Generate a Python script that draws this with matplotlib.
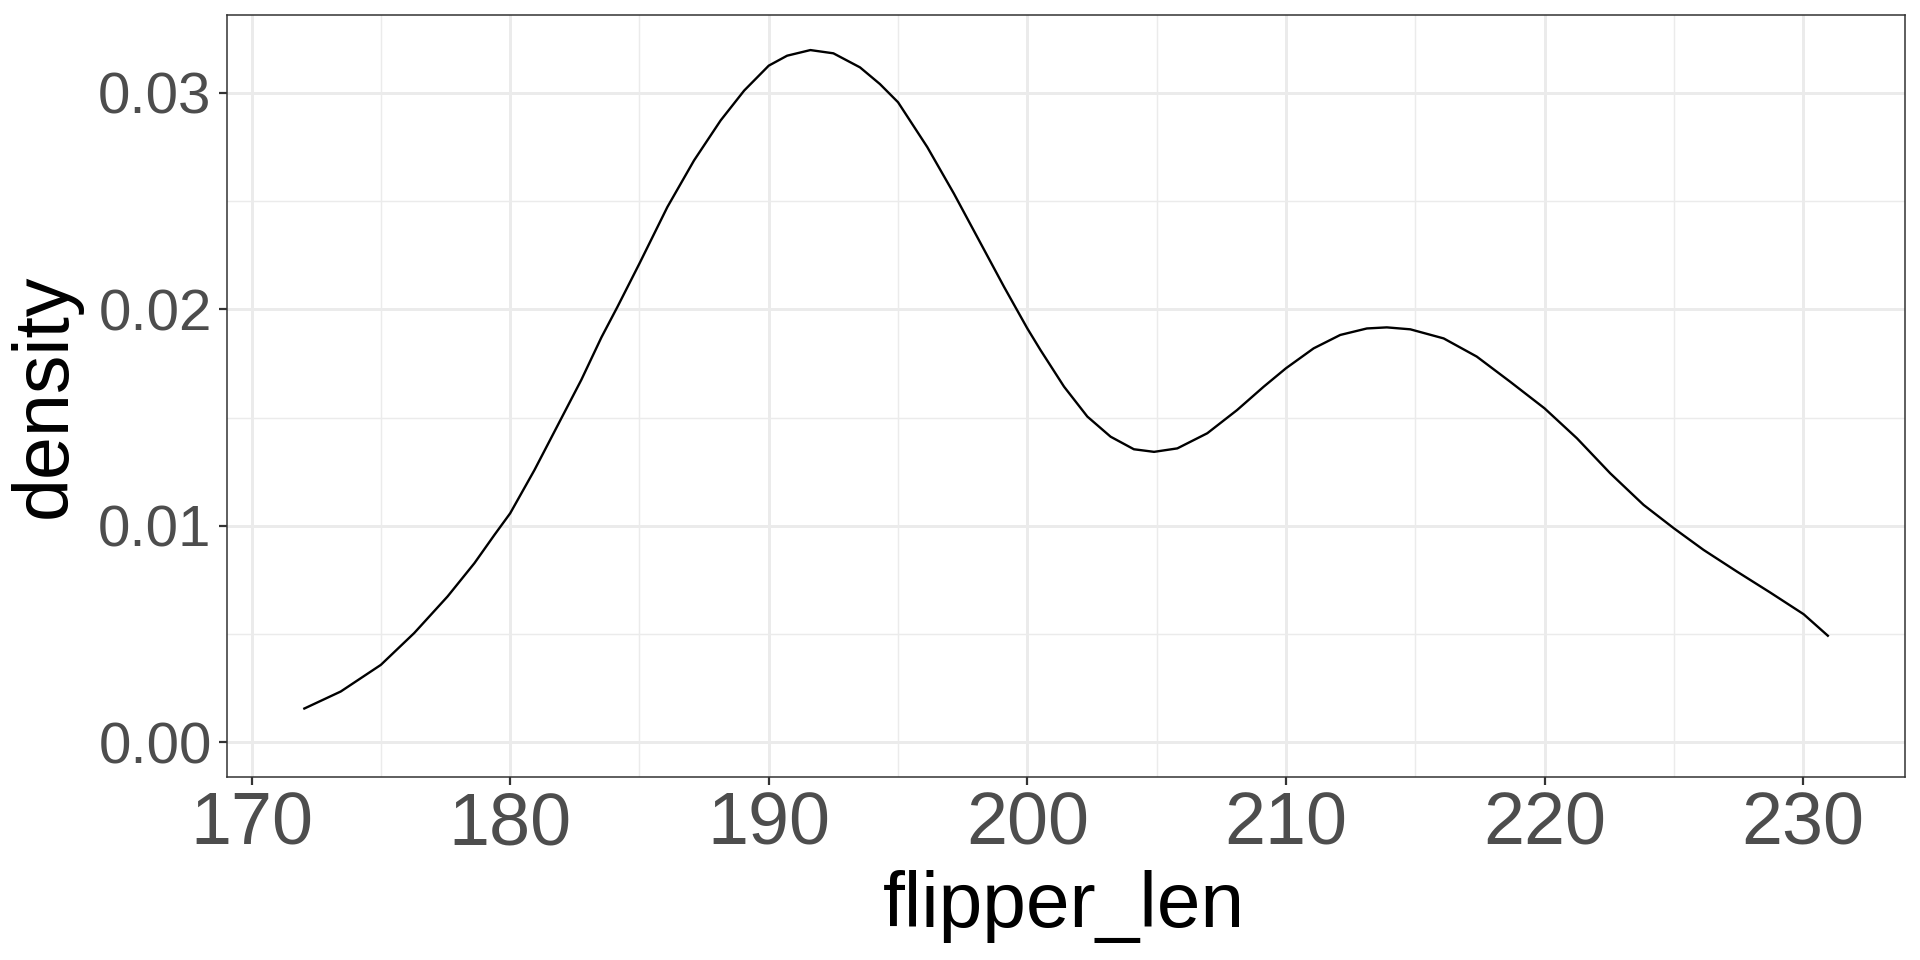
import matplotlib
matplotlib.use("Agg")
import matplotlib.pyplot as plt
from matplotlib.ticker import MultipleLocator, FixedLocator

# Values (kernel density of flipper length)
flipper_len = [172.0, 173.45, 175.0, 176.29, 177.58, 178.62, 179.39, 180.0,
               180.94, 181.98, 182.75, 183.53, 184.15, 185.0, 186.08, 187.11,
               188.14, 189.05, 190.0, 190.71, 191.61, 192.5, 193.53, 194.3,
               195.0, 196.13, 197.16, 198.2, 199.1, 200.0, 200.51, 201.42,
               202.32, 203.22, 204.12, 204.9, 205.8, 206.96, 208.11, 209.14,
               210.0, 211.07, 212.1, 213.13, 213.9, 214.81, 216.1, 217.38,
               218.67, 220.0, 221.25, 222.54, 223.83, 225.0, 226.15, 227.44,
               228.73, 230.02, 230.99]
density = [0.00154, 0.00235, 0.00358, 0.00505, 0.00674, 0.00828, 0.00958,
           0.01058, 0.01258, 0.01497, 0.01674, 0.01871, 0.02012, 0.02212,
           0.02473, 0.02688, 0.02873, 0.03011, 0.03126, 0.03172, 0.03198,
           0.03183, 0.03118, 0.03041, 0.02957, 0.0275, 0.02535, 0.02304,
           0.02104, 0.01912, 0.01812, 0.01643, 0.01505, 0.01412, 0.01354,
           0.01342, 0.01358, 0.01428, 0.01535, 0.01643, 0.01728, 0.0182,
           0.01882, 0.01912, 0.01917, 0.01908, 0.01866, 0.01782, 0.01666,
           0.01543, 0.01405, 0.01243, 0.01097, 0.00989, 0.00889, 0.00789,
           0.00692, 0.00592, 0.00489]

x_ticks = [170, 180, 190, 200, 210, 220, 230]
y_ticks = [0.00, 0.01, 0.02, 0.03]
y_tick_labels = ["0.00", "0.01", "0.02", "0.03"]

plt.rcParams['font.family'] = ['Liberation Sans', 'DejaVu Sans']

fig = plt.figure(figsize=(19.2, 9.6), dpi=100)
ax = fig.add_axes([227/1920, 1 - 777/960, (1905-227)/1920, (777-15)/960])

ax.plot(flipper_len, density, color='black', linewidth=1.7,
        solid_capstyle='butt', solid_joinstyle='round')

xmin, xmax = min(flipper_len), max(flipper_len)
xr = xmax - xmin
ax.set_xlim(xmin - 0.05*xr, xmax + 0.05*xr)
ymax = 0.0320
ax.set_ylim(-0.05*ymax, ymax*1.05)

ax.xaxis.set_major_locator(FixedLocator(x_ticks))
ax.xaxis.set_minor_locator(MultipleLocator(5))
ax.set_yticks(y_ticks)
ax.set_yticklabels(y_tick_labels)
ax.yaxis.set_minor_locator(MultipleLocator(0.005))

ax.grid(which='major', color='#EBEBEB', linewidth=2.1)
ax.grid(which='minor', color='#EBEBEB', linewidth=1.05)
ax.set_axisbelow(True)

for s in ax.spines.values():
    s.set_color('#333333')
    s.set_linewidth(1.1)

ax.tick_params(axis='both', which='major', length=6, width=1.6, color='#333333')
ax.tick_params(axis='x', which='major', labelsize=53, labelcolor='#4D4D4D', pad=4)
ax.tick_params(axis='y', which='major', labelsize=42, labelcolor='#4D4D4D', pad=5)
ax.tick_params(which='minor', length=0)

ax.set_xlabel('flipper_len', fontsize=56.5, color='black')
ax.xaxis.label.set_va('baseline')
ax.xaxis.set_label_coords(0.499, (777-927)/762)

ax.set_ylabel('density', fontsize=55.5, color='black')
ax.yaxis.label.set_va('center')
ax.yaxis.set_label_coords((45-227)/1678, 0.5)

fig.savefig('out.png', dpi=100, facecolor='white')
